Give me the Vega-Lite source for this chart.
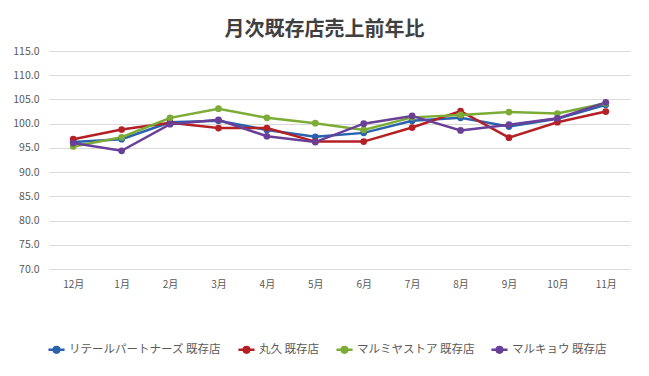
{
  "$schema": "https://vega.github.io/schema/vega-lite/v6.json",
  "autosize": "none",
  "width": 581,
  "height": 218,
  "padding": {"left": 49, "top": 51, "right": 19, "bottom": 107},
  "background": "white",
  "config": {
    "font": "Noto Sans CJK JP",
    "view": {"stroke": null}
  },
  "title": {
    "text": "月次既存店売上前年比",
    "fontSize": 20,
    "fontWeight": "bold",
    "color": "#404040",
    "offset": 6,
    "dx": -15,
    "font": "Noto Sans CJK JP"
  },
  "data": {
    "values": [
      {"month": "12月", "series": "リテールパートナーズ 既存店", "value": 96.2},
      {"month": "1月", "series": "リテールパートナーズ 既存店", "value": 96.8},
      {"month": "2月", "series": "リテールパートナーズ 既存店", "value": 100.3},
      {"month": "3月", "series": "リテールパートナーズ 既存店", "value": 100.6},
      {"month": "4月", "series": "リテールパートナーズ 既存店", "value": 98.7},
      {"month": "5月", "series": "リテールパートナーズ 既存店", "value": 97.3},
      {"month": "6月", "series": "リテールパートナーズ 既存店", "value": 98.1},
      {"month": "7月", "series": "リテールパートナーズ 既存店", "value": 100.6},
      {"month": "8月", "series": "リテールパートナーズ 既存店", "value": 101.2},
      {"month": "9月", "series": "リテールパートナーズ 既存店", "value": 99.4},
      {"month": "10月", "series": "リテールパートナーズ 既存店", "value": 101.0},
      {"month": "11月", "series": "リテールパートナーズ 既存店", "value": 103.9},
      {"month": "12月", "series": "丸久 既存店", "value": 96.8},
      {"month": "1月", "series": "丸久 既存店", "value": 98.8},
      {"month": "2月", "series": "丸久 既存店", "value": 100.2},
      {"month": "3月", "series": "丸久 既存店", "value": 99.1},
      {"month": "4月", "series": "丸久 既存店", "value": 99.1},
      {"month": "5月", "series": "丸久 既存店", "value": 96.3},
      {"month": "6月", "series": "丸久 既存店", "value": 96.3},
      {"month": "7月", "series": "丸久 既存店", "value": 99.2},
      {"month": "8月", "series": "丸久 既存店", "value": 102.6},
      {"month": "9月", "series": "丸久 既存店", "value": 97.1},
      {"month": "10月", "series": "丸久 既存店", "value": 100.3},
      {"month": "11月", "series": "丸久 既存店", "value": 102.5},
      {"month": "12月", "series": "マルミヤストア 既存店", "value": 95.3},
      {"month": "1月", "series": "マルミヤストア 既存店", "value": 97.2},
      {"month": "2月", "series": "マルミヤストア 既存店", "value": 101.2},
      {"month": "3月", "series": "マルミヤストア 既存店", "value": 103.1},
      {"month": "4月", "series": "マルミヤストア 既存店", "value": 101.2},
      {"month": "5月", "series": "マルミヤストア 既存店", "value": 100.1},
      {"month": "6月", "series": "マルミヤストア 既存店", "value": 98.7},
      {"month": "7月", "series": "マルミヤストア 既存店", "value": 101.3},
      {"month": "8月", "series": "マルミヤストア 既存店", "value": 101.8},
      {"month": "9月", "series": "マルミヤストア 既存店", "value": 102.4},
      {"month": "10月", "series": "マルミヤストア 既存店", "value": 102.1},
      {"month": "11月", "series": "マルミヤストア 既存店", "value": 104.2},
      {"month": "12月", "series": "マルキョウ 既存店", "value": 96.0},
      {"month": "1月", "series": "マルキョウ 既存店", "value": 94.4},
      {"month": "2月", "series": "マルキョウ 既存店", "value": 99.9},
      {"month": "3月", "series": "マルキョウ 既存店", "value": 100.8},
      {"month": "4月", "series": "マルキョウ 既存店", "value": 97.4},
      {"month": "5月", "series": "マルキョウ 既存店", "value": 96.2},
      {"month": "6月", "series": "マルキョウ 既存店", "value": 100.0},
      {"month": "7月", "series": "マルキョウ 既存店", "value": 101.6},
      {"month": "8月", "series": "マルキョウ 既存店", "value": 98.6},
      {"month": "9月", "series": "マルキョウ 既存店", "value": 99.8},
      {"month": "10月", "series": "マルキョウ 既存店", "value": 101.1},
      {"month": "11月", "series": "マルキョウ 既存店", "value": 104.4}
    ]
  },
  "mark": {"type": "line", "strokeWidth": 2.5, "point": {"filled": true, "size": 45, "opacity": 1}},
  "encoding": {
    "x": {
      "field": "month",
      "type": "ordinal",
      "sort": ["12月", "1月", "2月", "3月", "4月", "5月", "6月", "7月", "8月", "9月", "10月", "11月"],
      "scale": {"type": "point", "padding": 0.5},
      "axis": {
        "title": null,
        "labelAngle": 0,
        "domain": false,
        "ticks": false,
        "labelPadding": 10,
        "labelFontSize": 10,
        "labelColor": "#595959"
      }
    },
    "y": {
      "field": "value",
      "type": "quantitative",
      "scale": {"domain": [70, 115], "nice": false, "zero": false},
      "axis": {
        "title": null,
        "values": [70, 75, 80, 85, 90, 95, 100, 105, 110, 115],
        "format": ".1f",
        "domain": false,
        "ticks": false,
        "labelPadding": 10,
        "labelFontSize": 10.5,
        "labelColor": "#595959",
        "gridColor": "#d9d9d9",
        "gridWidth": 1
      }
    },
    "color": {
      "field": "series",
      "type": "nominal",
      "sort": ["リテールパートナーズ 既存店", "丸久 既存店", "マルミヤストア 既存店", "マルキョウ 既存店"],
      "scale": {
        "domain": ["リテールパートナーズ 既存店", "丸久 既存店", "マルミヤストア 既存店", "マルキョウ 既存店"],
        "range": ["#2a62ae", "#b52025", "#7cac36", "#6a3f97"]
      },
      "legend": {
        "title": null,
        "orient": "none",
        "direction": "horizontal",
        "legendX": -2,
        "legendY": 289,
        "symbolType": "M-1,0L1,0M-0.35,0A0.35,0.35 0 1,1 0.35,0A0.35,0.35 0 1,1 -0.35,0Z",
        "symbolSize": 260,
        "symbolStrokeWidth": 2.5,
        "labelFontSize": 11.5,
        "labelColor": "#595959",
        "columnPadding": 11,
        "labelOffset": 3
      }
    }
  }
}
